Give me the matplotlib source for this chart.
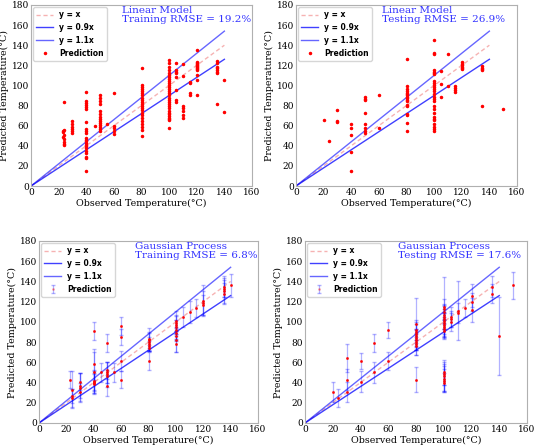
import numpy as np
import matplotlib
matplotlib.use('Agg')
import matplotlib.pyplot as plt

# --- data: linear model ---
lin_train_obs = ([23] * 3 + [24] * 7 + [30] * 6 + [40] * 22 + [46] + [50] * 14 + [55] + [60] * 5
                 + [80] * 22 + [100] * 30 + [105] * 8 + [110] * 7 + [115] * 4 + [120] * 13
                 + [135] * 8 + [140] * 2)
lin_train_pred = ([55, 54, 49] + [84, 56, 51, 47, 44, 42, 41]
                  + [65, 62, 59, 57, 55, 53]
                  + [93, 85, 83, 81, 79, 77, 64, 57, 55, 53, 48, 46, 45, 43, 41, 40, 38, 35, 33, 29, 28, 15]
                  + [60]
                  + [90, 88, 85, 82, 75, 72, 69, 67, 65, 63, 61, 59, 57, 55]
                  + [62]
                  + [92, 60, 58, 55, 52]
                  + [117, 100, 98, 96, 94, 92, 90, 88, 86, 84, 82, 80, 78, 76, 73, 71, 68, 65, 62, 59, 56, 50]
                  + [125, 122, 118, 115, 112, 110, 108, 106, 104, 102, 100, 98, 96, 94, 92, 90, 88, 86,
                     84, 82, 80, 78, 75, 73, 72, 70, 68, 67, 66, 58]
                  + [122, 115, 113, 112, 108, 95, 86, 84]
                  + [121, 109, 80, 78, 75, 71, 68]
                  + [103, 102, 92, 90]
                  + [135, 123, 122, 121, 120, 119, 118, 117, 116, 115, 110, 105, 90]
                  + [124, 122, 118, 117, 115, 113, 112, 82]
                  + [105, 74])

lin_test_obs = ([20, 24] + [30] * 3 + [40] * 5 + [50] * 8 + [60] * 2 + [80] * 17 + [100] * 27
                + [105] * 3 + [110] * 2 + [115] * 4 + [120] * 6 + [135] * 5 + [150])
lin_test_pred = ([66, 45] + [76, 65, 64] + [62, 58, 51, 34, 15]
                 + [89, 87, 86, 73, 62, 58, 55, 53] + [90, 58]
                 + [126, 99, 96, 94, 92, 91, 90, 89, 88, 86, 85, 81, 80, 72, 71, 63, 55]
                 + [145, 132, 131, 115, 113, 112, 111, 104, 102, 100, 98, 96, 94, 91, 89, 87, 85,
                    80, 77, 73, 69, 67, 66, 62, 59, 57, 55]
                 + [114, 101, 89] + [131, 99] + [99, 97, 95, 93]
                 + [123, 121, 120, 118, 117, 116] + [119, 117, 116, 115, 80] + [77])

# --- data: gaussian process (mean, +/- error) ---
gp_train_obs = ([23] + [24] * 3 + [30] * 4 + [40] * 7 + [45] + [50] * 6 + [55] + [60] * 4
                + [80] * 7 + [100] * 9 + [105, 110, 115] + [120] * 3 + [135] * 4 + [140])
gp_train_pred = ([43] + [33, 25, 27] + [41, 37, 31, 35]
                 + [91, 58, 42, 41, 40, 39, 50] + [50]
                 + [79, 52, 50, 48, 46, 37] + [50] + [96, 85, 61, 43]
                 + [83, 82, 80, 78, 76, 74, 61]
                 + [101, 99, 97, 95, 92, 89, 86, 82, 78]
                 + [105, 110, 114] + [121, 119, 117] + [135, 133, 131, 128] + [136])
gp_train_err = ([8] + [18, 9, 7] + [8, 12, 9, 14]
                + [9, 15, 10, 8, 11, 9, 20] + [9]
                + [9, 8, 10, 12, 6, 10] + [9] + [9, 8, 10, 8]
                + [11, 8, 9, 7, 5, 3, 9]
                + [10, 8, 9, 7, 10, 6, 5, 12, 8]
                + [10, 11, 9] + [15, 12, 10] + [10, 8, 12, 10] + [11])

gp_test_obs = ([20, 24] + [30] * 3 + [40] * 2 + [50] * 2 + [60] * 2 + [80] * 11 + [100] * 18
               + [105] * 3 + [110] * 2 + [115] + [120] * 3 + [135] * 2 + [140, 150])
gp_test_pred = ([31, 25] + [64, 43, 31] + [61, 41] + [79, 50] + [92, 61]
                + [98, 92, 90, 88, 86, 84, 82, 80, 78, 76, 43]
                + [115, 113, 110, 107, 105, 103, 101, 99, 97, 95, 93, 91, 50, 48, 46, 44, 42, 40]
                + [105, 103, 100] + [111, 109] + [114] + [126, 120, 112] + [135, 128] + [86, 136])
gp_test_err = ([10, 9] + [14, 10, 10] + [8, 10] + [9, 10] + [8, 9]
               + [26, 10, 8, 12, 7, 9, 10, 8, 11, 9, 12]
               + [29, 10, 8, 9, 12, 10, 8, 11, 12, 10, 9, 8, 12, 10, 14, 12, 11, 9]
               + [10, 8, 9] + [29, 10] + [9] + [11, 9, 12] + [10, 9] + [39, 13])

titles = ['Linear Model\nTraining RMSE = 19.2%', 'Linear Model\nTesting RMSE = 26.9%',
          'Gaussian Process\nTraining RMSE = 6.8%', 'Gaussian Process\nTesting RMSE = 17.6%']

W, H = 537, 446
fig = plt.figure(figsize=(W / 100, H / 100), dpi=100)

# pixel boxes (left, top, right, bottom)
boxes = [(31, 5, 252, 186), (296, 5, 517, 186), (39, 241, 258, 423), (305, 241, 527, 423)]
title_x = [0.41, 0.39, 0.44, 0.42]

line_x = np.array([0, 140])

for i, (l, t, r, b) in enumerate(boxes):
    ax = fig.add_axes([l / W, 1 - b / H, (r - l) / W, (b - t) / H])
    ax.plot(line_x, line_x, color='lightcoral', linestyle=(0, (3, 2)), lw=1, alpha=0.6, label='y = x')
    ax.plot(line_x, 0.9 * line_x, color='blue', lw=1, alpha=0.75, label='y = 0.9x')
    ax.plot(line_x, 1.1 * line_x, color='blue', lw=1, alpha=0.6, label='y = 1.1x')
    if i == 0:
        ax.plot(lin_train_obs, lin_train_pred, 'r.', ms=3, label='Prediction')
    elif i == 1:
        ax.plot(lin_test_obs, lin_test_pred, 'r.', ms=3, label='Prediction')
    else:
        obs, pred, err = [(gp_train_obs, gp_train_pred, gp_train_err),
                          (gp_test_obs, gp_test_pred, gp_test_err)][i - 2]
        ax.errorbar(obs, pred, yerr=err, fmt='.', color='red', ms=2, ecolor='blue',
                    elinewidth=0.9, capsize=1.5, alpha=0.3, label='Prediction')
        ax.plot(obs, pred, 'r.', ms=2, alpha=0.8)
    ax.set_xlim(0, 160)
    ax.set_ylim(0, 180)
    ax.set_xticks(range(0, 161, 20))
    ax.set_yticks(range(0, 181, 20))
    for lab in ax.get_xticklabels() + ax.get_yticklabels():
        lab.set_family('DejaVu Serif')
        lab.set_fontsize(6.5)
    ax.tick_params(length=0, pad=1.5)
    for s in ax.spines.values():
        s.set_color('#b0b0b0')
    ax.set_xlabel('Observed Temperature(°C)', family='DejaVu Serif', fontsize=6.8, labelpad=1)
    ax.set_ylabel('Predicted Temperature(°C)', family='DejaVu Serif', fontsize=6.8, labelpad=2)
    ax.text(title_x[i], 0.995, titles[i], transform=ax.transAxes, ha='left', va='top',
            color='blue', family='DejaVu Serif', fontsize=7.5, alpha=0.8, linespacing=1.0)
    ax.legend(loc='upper left', prop={'weight': 'bold', 'size': 5.5}, borderaxespad=0.3,
              handlelength=2.2, framealpha=0.8)

fig.savefig('out.png', dpi=100)
